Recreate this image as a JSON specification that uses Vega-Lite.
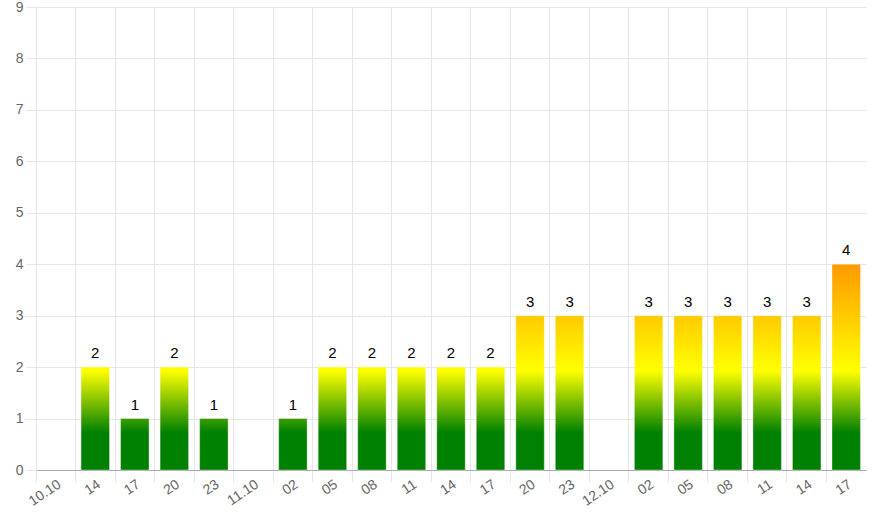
{
  "$schema": "https://vega.github.io/schema/vega-lite/v6.json",
  "width": 830,
  "height": 463,
  "autosize": {"type": "none"},
  "padding": {"left": 36, "top": 7, "right": 9, "bottom": 55},
  "background": "#ffffff",
  "config": {
    "view": {"stroke": null},
    "font": "Liberation Sans"
  },
  "data": {
    "values": [
      {"slot": "10.10", "v": 0},
      {"slot": "10.10 14", "v": 2},
      {"slot": "10.10 17", "v": 1},
      {"slot": "10.10 20", "v": 2},
      {"slot": "10.10 23", "v": 1},
      {"slot": "11.10", "v": 0},
      {"slot": "11.10 02", "v": 1},
      {"slot": "11.10 05", "v": 2},
      {"slot": "11.10 08", "v": 2},
      {"slot": "11.10 11", "v": 2},
      {"slot": "11.10 14", "v": 2},
      {"slot": "11.10 17", "v": 2},
      {"slot": "11.10 20", "v": 3},
      {"slot": "11.10 23", "v": 3},
      {"slot": "12.10", "v": 0},
      {"slot": "12.10 02", "v": 3},
      {"slot": "12.10 05", "v": 3},
      {"slot": "12.10 08", "v": 3},
      {"slot": "12.10 11", "v": 3},
      {"slot": "12.10 14", "v": 3},
      {"slot": "12.10 17", "v": 4}
    ]
  },
  "encoding": {
    "x": {
      "field": "slot",
      "type": "ordinal",
      "sort": null,
      "scale": {
        "domain": ["10.10", "10.10 14", "10.10 17", "10.10 20", "10.10 23", "11.10", "11.10 02", "11.10 05", "11.10 08", "11.10 11", "11.10 14", "11.10 17", "11.10 20", "11.10 23", "12.10", "12.10 02", "12.10 05", "12.10 08", "12.10 11", "12.10 14", "12.10 17"],
        "paddingInner": 0,
        "paddingOuter": 0
      },
      "axis": {
        "title": null,
        "grid": true,
        "gridColor": "#e6e6e6",
        "bandPosition": 0,
        "domainColor": "#aaaaaa",
        "tickColor": "#e6e6e6",
        "tickSize": 12,
        "labelAngle": -34,
        "labelAlign": "right",
        "labelBaseline": "top",
        "labelPadding": -5,
        "labelColor": "#666666",
        "labelFontSize": 14,
        "labelFont": "Liberation Sans",
        "labelExpr": "indexof(datum.value, ' ') > 0 ? substring(datum.value, indexof(datum.value, ' ') + 1) : datum.value"
      }
    },
    "y": {
      "field": "v",
      "type": "quantitative",
      "scale": {"domain": [0, 9], "nice": false},
      "axis": {
        "title": null,
        "values": [0, 1, 2, 3, 4, 5, 6, 7, 8, 9],
        "grid": true,
        "gridColor": "#e6e6e6",
        "domainColor": "#e6e6e6",
        "tickColor": "#e6e6e6",
        "tickSize": 10,
        "labelPadding": 3,
        "labelColor": "#666666",
        "labelFontSize": 14,
        "labelFont": "Liberation Sans"
      }
    }
  },
  "layer": [
    {
      "transform": [{"filter": "datum.v == 1"}],
      "mark": {
        "type": "bar",
        "width": {"band": 0.72},
        "stroke": "#ffffff",
        "strokeOpacity": 0.35,
        "strokeWidth": 1,
        "color": {
          "gradient": "linear", "x1": 0, "y1": 1, "x2": 0, "y2": 0,
          "stops": [
            {"offset": 0, "color": "#008000"},
            {"offset": 0.72, "color": "#008000"},
            {"offset": 1, "color": "#3b9d00"}
          ]
        }
      }
    },
    {
      "transform": [{"filter": "datum.v == 2"}],
      "mark": {
        "type": "bar",
        "width": {"band": 0.72},
        "stroke": "#ffffff",
        "strokeOpacity": 0.35,
        "strokeWidth": 1,
        "color": {
          "gradient": "linear", "x1": 0, "y1": 1, "x2": 0, "y2": 0,
          "stops": [
            {"offset": 0, "color": "#008000"},
            {"offset": 0.36, "color": "#008000"},
            {"offset": 0.965, "color": "#ffff00"},
            {"offset": 1, "color": "#fffd00"}
          ]
        }
      }
    },
    {
      "transform": [{"filter": "datum.v == 3"}],
      "mark": {
        "type": "bar",
        "width": {"band": 0.72},
        "stroke": "#ffffff",
        "strokeOpacity": 0.35,
        "strokeWidth": 1,
        "color": {
          "gradient": "linear", "x1": 0, "y1": 1, "x2": 0, "y2": 0,
          "stops": [
            {"offset": 0, "color": "#008000"},
            {"offset": 0.24, "color": "#008000"},
            {"offset": 0.643, "color": "#ffff00"},
            {"offset": 1, "color": "#ffca00"}
          ]
        }
      }
    },
    {
      "transform": [{"filter": "datum.v == 4"}],
      "mark": {
        "type": "bar",
        "width": {"band": 0.72},
        "stroke": "#ffffff",
        "strokeOpacity": 0.35,
        "strokeWidth": 1,
        "color": {
          "gradient": "linear", "x1": 0, "y1": 1, "x2": 0, "y2": 0,
          "stops": [
            {"offset": 0, "color": "#008000"},
            {"offset": 0.18, "color": "#008000"},
            {"offset": 0.4825, "color": "#ffff00"},
            {"offset": 1, "color": "#ff9900"}
          ]
        }
      }
    },
    {
      "transform": [{"filter": "datum.v > 0"}],
      "mark": {
        "type": "text",
        "baseline": "alphabetic",
        "dy": -9,
        "fontSize": 15,
        "color": "#000000",
        "font": "Liberation Sans"
      },
      "encoding": {
        "text": {"field": "v", "type": "quantitative"}
      }
    }
  ]
}
